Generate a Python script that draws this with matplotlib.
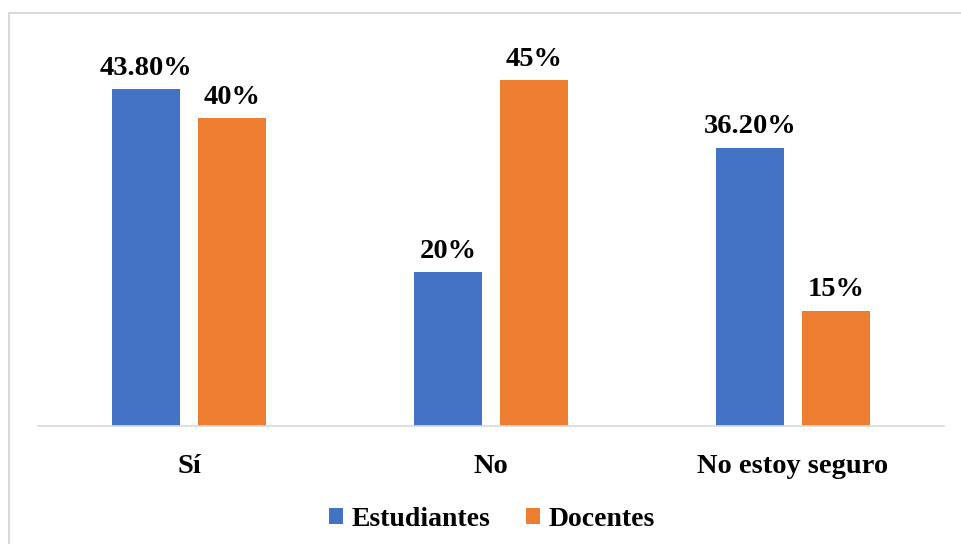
import matplotlib.pyplot as plt
import numpy as np
from matplotlib.lines import Line2D

plt.rcParams['font.family'] = ['Liberation Serif', 'DejaVu Serif']
plt.rcParams['font.weight'] = 'bold'

categories = ['Sí', 'No', 'No estoy seguro']
estudiantes = [43.8, 20, 36.2]
docentes = [40, 45, 15]
est_labels = ['43.80%', '20%', '36.20%']
doc_labels = ['40%', '45%', '15%']

blue = '#4472C4'
orange = '#ED7D31'

W, H = 961, 544
fig = plt.figure(figsize=(W / 100, H / 100), dpi=100)
# axes: x 38..944, baseline y=426, top y=40
ax = fig.add_axes([38 / W, (H - 426) / H, (944 - 38) / W, (426 - 40) / H])

x = np.arange(len(categories))
width = 0.225
off = 0.142
b1 = ax.bar(x - off, estudiantes, width, color=blue, label='Estudiantes')
b2 = ax.bar(x + off, docentes, width, color=orange, label='Docentes')

for bars, labels in [(b1, est_labels), (b2, doc_labels)]:
    for rect, lab in zip(bars, labels):
        ax.annotate(lab, (rect.get_x() + rect.get_width() / 2, rect.get_height()),
                    xytext=(0, 6), textcoords='offset points',
                    ha='center', va='bottom', fontsize=20.5, fontweight='bold')

ax.set_xlim(-0.5, 2.5)
ax.set_ylim(0, 50.2)
ax.set_yticks([])
ax.set_xticks(x)
ax.set_xticklabels(categories, fontsize=20.5, fontweight='bold')
ax.tick_params(axis='x', length=0, pad=20)
for s in ['top', 'right', 'left']:
    ax.spines[s].set_visible(False)
ax.spines['bottom'].set_color('#D9D9D9')
ax.spines['bottom'].set_linewidth(1.2)

leg = fig.legend(handles=[b1, b2], loc='center', bbox_to_anchor=(492 / W, (H - 519) / H),
                 ncol=2, frameon=False, prop={'size': 20, 'weight': 'bold'},
                 handlelength=0.5, handleheight=0.5, handletextpad=0.3, columnspacing=1.3)

# outer chart frame
fig.add_artist(Line2D([8.5 / W, 1], [(H - 12.5) / H] * 2, color='#D9D9D9', lw=1.5))
fig.add_artist(Line2D([8.5 / W] * 2, [0, (H - 12.5) / H], color='#D9D9D9', lw=1.5))

fig.savefig('out.png', dpi=100)
